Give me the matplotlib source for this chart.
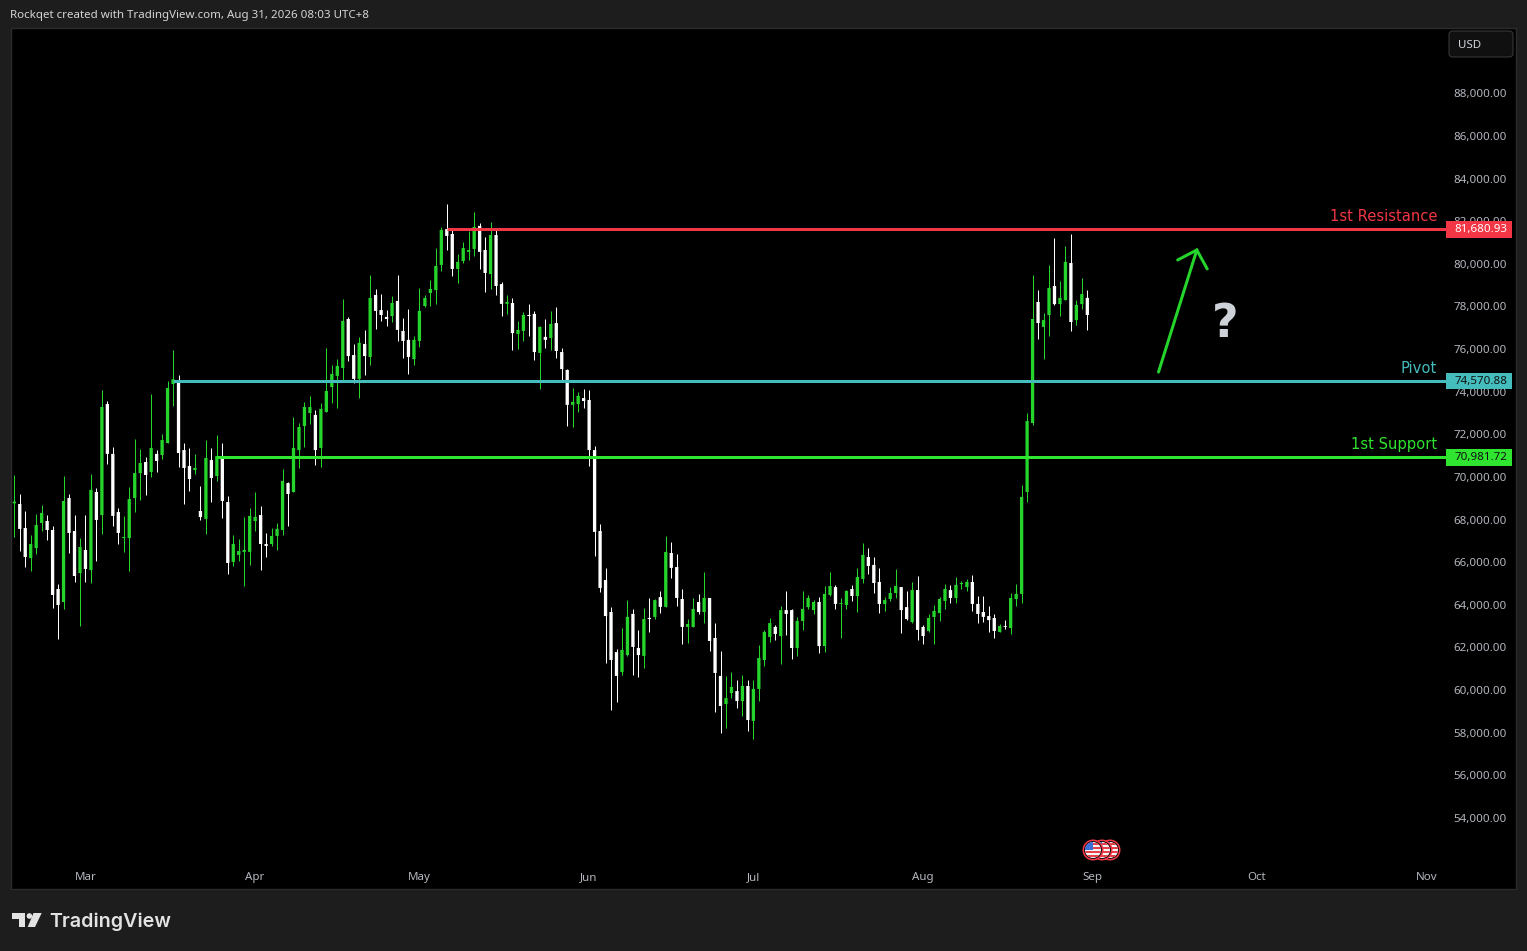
import matplotlib
matplotlib.use("Agg")
import matplotlib.pyplot as plt
import numpy as np
from matplotlib.patches import Circle, Polygon, Rectangle, FancyBboxPatch

# Daily candles, first one is Feb 16
open_ = [
    68830, 68800, 67670, 66260, 66730, 67910, 68000, 67580, 64810, 64200,
    69080, 67530, 65560, 66640, 65700, 69360, 68280, 73490, 71150, 68420,
    67200, 67200, 69080, 70250, 70770, 70300, 71150, 71100, 71660, 74430,
    74570, 71330, 70580, 70390, 68470, 68100, 70860, 70110, 71050, 68890,
    66080, 66410, 66550, 66550, 68000, 68280, 66920, 66920, 67300, 67580,
    69780, 69360, 71330, 72460, 73070, 72980, 71430, 73120, 74290, 74810,
    75180, 77480, 75790, 74670, 76310, 75700, 78610, 77900, 77580, 77620,
    78330, 76920, 76500, 75600, 76450, 78090, 78700, 78840, 80020, 81700,
    81470, 79830, 80200, 80630, 80770, 81850, 80720, 79590, 81420, 79120,
    78190, 78230, 76780, 76920, 77670, 77720, 75890, 76640, 76590, 77290,
    75930, 75090, 73450, 73490, 73770, 73680, 71330, 67530, 65230, 63730,
    61850, 60910, 61710, 63640, 62040, 61670, 63450, 63500, 64430, 63970,
    66500, 65840, 64340, 63030, 63030, 64200, 63730, 64390, 62510, 60730,
    59410, 59930, 60020, 59550, 60260, 58620, 60120, 61480, 62560, 63030,
    62600, 63820, 63820, 62040, 63310, 63960, 63820, 64200, 62130, 64530,
    64900, 64110, 64060, 64810, 64480, 65280, 66310, 65940, 65140, 64110,
    64340, 64620, 64900, 63960, 63260, 64760, 63030, 62840, 63500, 63680,
    64250, 64760, 64390, 65040, 64900, 65140, 64110, 63730, 63540, 63450,
    62790, 63070, 62980, 64340, 64580, 69360, 72600, 78280, 77110, 77670,
    79030, 78180, 78370, 80110, 77430, 78180, 78470,
]
high = [
    70160, 69270, 68470, 67330, 68330, 68750, 68280, 67770, 65040, 70110,
    69270, 68280, 67200, 68280, 70210, 69550, 74150, 73630, 71470, 68610,
    68240, 69600, 71850, 71380, 71000, 73960, 71330, 72080, 74570, 76030,
    74850, 71660, 71430, 71150, 69640, 71800, 71430, 72040, 71660, 69170,
    67340, 67160, 68190, 68610, 69360, 68710, 67440, 67670, 67910, 70440,
    69830, 72880, 72600, 73590, 73870, 73210, 73540, 76120, 75320, 75600,
    78420, 77580, 76310, 76640, 76970, 79550, 78890, 78650, 77900, 78560,
    79550, 77530, 77950, 76680, 78940, 78610, 79310, 80810, 81800, 82880,
    81750, 80530, 81090, 81610, 82500, 81990, 81330, 82030, 81660, 79220,
    78610, 78470, 77390, 77810, 78190, 77860, 77150, 77480, 77860, 78040,
    76120, 75130, 74240, 74060, 74200, 74150, 71520, 67860, 65800, 63970,
    61990, 62980, 64290, 63870, 62890, 63920, 64390, 64340, 64720, 67300,
    67020, 66450, 64810, 63400, 64390, 64580, 65610, 64390, 63210, 61900,
    60730, 60910, 60540, 60770, 60540, 60540, 62180, 62890, 63450, 63120,
    64010, 64720, 63870, 63500, 64720, 64530, 64290, 64430, 64950, 65610,
    65000, 64390, 64760, 65000, 65800, 66970, 66730, 66310, 65800, 64430,
    64900, 65750, 64900, 64720, 65140, 65420, 63120, 63640, 64060, 64430,
    65040, 65000, 65370, 65190, 65280, 65470, 64480, 64480, 64010, 63640,
    63170, 63350, 64620, 65040, 69690, 73070, 79550, 78840, 77760, 80010,
    81280, 79260, 80910, 81470, 78370, 79400, 78840,
]
low = [
    67270, 66590, 65840, 65650, 66450, 67530, 67110, 63920, 62460, 63870,
    66500, 65140, 63070, 65140, 65090, 66120, 67390, 70680, 67770, 66920,
    66550, 65650, 68420, 68990, 69220, 70070, 70300, 70910, 71660, 73400,
    70540, 68800, 69410, 70210, 68050, 67390, 68890, 69880, 68140, 65510,
    65890, 66120, 64950, 65940, 67530, 65700, 66310, 66830, 66640, 67340,
    67770, 69360, 70490, 71470, 72550, 70630, 70540, 73120, 73540, 73300,
    74620, 75510, 74480, 73770, 74850, 75320, 77010, 77390, 77150, 77340,
    76450, 75650, 74900, 75320, 76170, 78040, 78090, 78190, 79730, 80720,
    79500, 79170, 80110, 80250, 80440, 79830, 78750, 78890, 78610, 77620,
    77720, 76030, 76070, 76450, 76680, 75560, 74200, 76120, 76030, 75650,
    74570, 72460, 72410, 73120, 73300, 70580, 66360, 64670, 61340, 59130,
    59510, 60770, 61670, 60770, 60680, 61100, 62790, 63400, 63680, 63970,
    65330, 64010, 62230, 62280, 63030, 63640, 63210, 61900, 59040, 58050,
    58290, 59690, 59230, 58850, 58150, 57770, 59550, 61200, 62320, 62420,
    61290, 62650, 61530, 61670, 62890, 63870, 63640, 61810, 61850, 64480,
    63870, 62510, 63870, 64250, 63730, 65090, 65510, 64620, 63680, 63780,
    64250, 64390, 62740, 63350, 63210, 62420, 62230, 62790, 62230, 63310,
    63870, 64150, 64150, 64810, 64720, 63780, 63210, 63260, 62790, 62510,
    62790, 62930, 62700, 64010, 64150, 68890, 72510, 76540, 75600, 76680,
    78140, 77620, 78370, 76920, 77200, 77950, 76960,
]
close = [
    68910, 67630, 66310, 66920, 67810, 68380, 67580, 64530, 64060, 68940,
    67440, 65420, 66780, 65750, 69460, 68050, 73350, 71150, 68240, 67440,
    67250, 69030, 70250, 70720, 70160, 71430, 70820, 71800, 74240, 74650,
    71190, 70490, 69970, 70490, 68190, 70960, 70020, 71050, 68940, 66030,
    66920, 66590, 66640, 68240, 68190, 66920, 66830, 67300, 67630, 69880,
    69270, 71430, 72410, 73350, 73350, 71330, 73260, 74100, 74900, 75280,
    77390, 75740, 74670, 76360, 75740, 78470, 77860, 77670, 77480, 78230,
    76970, 76450, 75700, 76500, 77860, 78470, 78890, 79970, 81660, 81380,
    79830, 80160, 80810, 80720, 81800, 80630, 79640, 81420, 79030, 78190,
    78280, 76820, 76970, 77670, 77620, 75930, 77110, 76500, 77250, 75980,
    75130, 73450, 73590, 73870, 73630, 71330, 67490, 64860, 63540, 61480,
    60730, 61950, 63500, 62090, 61710, 63400, 63400, 64290, 63970, 66550,
    65800, 64390, 63030, 63170, 63870, 63730, 64390, 62370, 60870, 59320,
    59690, 60210, 59550, 60260, 58660, 60120, 61570, 62790, 63210, 62700,
    63820, 63640, 62040, 63310, 63870, 64390, 64200, 62130, 64580, 64950,
    64110, 64150, 64720, 64480, 65370, 66410, 65890, 65090, 64110, 64290,
    64620, 64950, 63820, 63400, 64760, 62890, 62600, 63450, 63780, 64340,
    64810, 64390, 65000, 65090, 65140, 64110, 63640, 63500, 63350, 62840,
    63070, 63030, 64390, 64580, 69130, 72690, 77480, 77290, 77430, 78940,
    78180, 78470, 80160, 77340, 78140, 78650, 77670,
]

month_pos = [13, 44, 74, 105, 135, 166, 197, 227, 258]
month_labels = ["Mar", "Apr", "May", "Jun", "Jul", "Aug", "Sep", "Oct", "Nov"]
price_ticks = list(range(54000, 90000, 2000))

level_names = ["1st Resistance", "Pivot", "1st Support"]
level_values = [81680.93, 74570.88, 70981.72]
level_starts = [79, 29, 37]
level_colors = ["#f23645", "#45bdbd", "#2fe52f"]
level_text_colors = ["#ffffff", "#101010", "#101010"]

arrow_x = [209.0, 216.0]
arrow_y = [74990, 80720]
head_x = [212.5, 216.0, 217.9]
head_y = [80250, 80720, 79830]

GREEN = "#25d52c"
WHITE = "#ffffff"
TICK_GREY = "#b4b7bf"
BG = "#1d1d1d"

W, H = 1527, 951
fig = plt.figure(figsize=(W / 100, H / 100), dpi=100, facecolor=BG)
ax = fig.add_axes([11 / W, (H - 889) / H, 1505 / W, 861 / H], facecolor="black")
ax.set_xlim(-0.6, 274.3)
ax.set_ylim(50731, 91137)
for s in ax.spines.values():
    s.set_color("#2c2c2c")
    s.set_linewidth(1)

# Candles
x = np.arange(len(close))
o, h, l, c = map(np.array, (open_, high, low, close))
colors = [GREEN if up else WHITE for up in c >= o]
PX = 0.72
wicks = ax.vlines(x, l, h, colors=colors, linewidth=1 * PX, zorder=2)
wicks.set_snap(True)
bodies = ax.vlines(x, np.minimum(o, c), np.maximum(o, c), colors=colors, linewidth=3.3 * PX,
                   zorder=2.1, capstyle="butt")
bodies.set_snap(False)

# Axis labels sit inside the panel
ax.yaxis.tick_right()
ax.set_yticks(price_ticks)
ax.set_yticklabels([f"{p:,.2f}" for p in price_ticks], ha="right", va="center",
                   family="Noto Sans", fontsize=8.3, color=TICK_GREY)
ax.tick_params(axis="y", length=0, pad=-6.5)
ax.set_xticks(month_pos)
ax.set_xticklabels(month_labels, family="Noto Sans", fontsize=8.3, color=TICK_GREY, va="baseline")
ax.tick_params(axis="x", length=0, pad=-6.5)

# Levels
for name, val, start, col, tcol in zip(level_names, level_values, level_starts,
                                        level_colors, level_text_colors):
    ax.hlines(val, start, 261.5, colors=col, linewidth=3 * PX, zorder=4)
    ax.text(259.9, val + 600, name, ha="right", va="center", color=col,
            family="DejaVu Sans", fontsize=10.6, zorder=6)
    ax.add_patch(Rectangle((261.5, val - 395), 12.05, 790, facecolor=col, edgecolor="none", zorder=5))
    ax.text(267.9, val, f"{val:,.2f}", ha="center", va="center", color=tcol,
            family="Noto Sans", fontsize=8.3, zorder=6)

# Arrow and question mark
ax.plot(arrow_x, arrow_y, color=GREEN, lw=3 * PX, solid_capstyle="round", zorder=4)
ax.plot(head_x, head_y, color=GREEN, lw=3 * PX, solid_capstyle="round",
        solid_joinstyle="miter", zorder=4)
ax.text(221.1, 77240, "?", ha="center", va="center", color="#cdd1d8",
        family="DejaVu Sans", fontweight="bold", fontsize=33, zorder=4)

# Overlay in pixel coords for the page chrome
ov = fig.add_axes([0, 0, 1, 1], facecolor="none")
ov.set_xlim(0, W)
ov.set_ylim(H, 0)
ov.axis("off")

ov.text(10, 15.5, "Rockqet created with TradingView.com, Aug 31, 2026 08:03 UTC+8", ha="left",
        va="center", color="#d4d4d4", family="Noto Sans", fontsize=8.3)

# USD button
ov.add_patch(FancyBboxPatch((1449, 31), 64, 26, boxstyle="round,pad=0,rounding_size=4",
                            facecolor="#101010", edgecolor="#363636", linewidth=0.8))
ov.text(1458, 45, "USD", ha="left", va="center", color="#d1d4dc", family="Noto Sans", fontsize=8.3)

# Event flags on the time axis
for cx in [1110, 1102, 1093]:
    ov.add_patch(Circle((cx, 850), 10.5, facecolor="#f23645", edgecolor="none"))
    ov.add_patch(Circle((cx, 850), 9, facecolor="#111111", edgecolor="none"))
    clip = Circle((cx, 850), 8, transform=ov.transData)
    stripes = [Rectangle((cx - 9, 841), 18, 18, facecolor="#f5f5f5", edgecolor="none")]
    for sy in [843, 847, 851, 855]:
        stripes.append(Rectangle((cx - 9, sy), 18, 2, facecolor="#e8404a", edgecolor="none"))
    stripes.append(Rectangle((cx - 9, 841), 9, 9, facecolor="#3d6fd8", edgecolor="none"))
    for p in stripes:
        ov.add_patch(p)
        p.set_clip_path(clip)

# TradingView logo
LOGO = "#e3e3e3"
ov.add_patch(Polygon([(12, 913), (25, 913), (25, 927), (19, 927), (19, 919), (12, 919)],
                     closed=True, facecolor=LOGO, edgecolor="none"))
ov.add_patch(Circle((29.4, 916), 2.8, facecolor=LOGO, edgecolor="none"))
ov.add_patch(Polygon([(33.5, 913), (41.7, 913), (35, 927), (27.7, 927)],
                     closed=True, facecolor=LOGO, edgecolor="none"))
ov.text(49, 922, "TradingView", ha="left", va="center", color=LOGO, family="Inter",
        fontweight="semibold", fontsize=14.2)

fig.savefig("out.png", dpi=100, facecolor=BG)
plt.close(fig)
